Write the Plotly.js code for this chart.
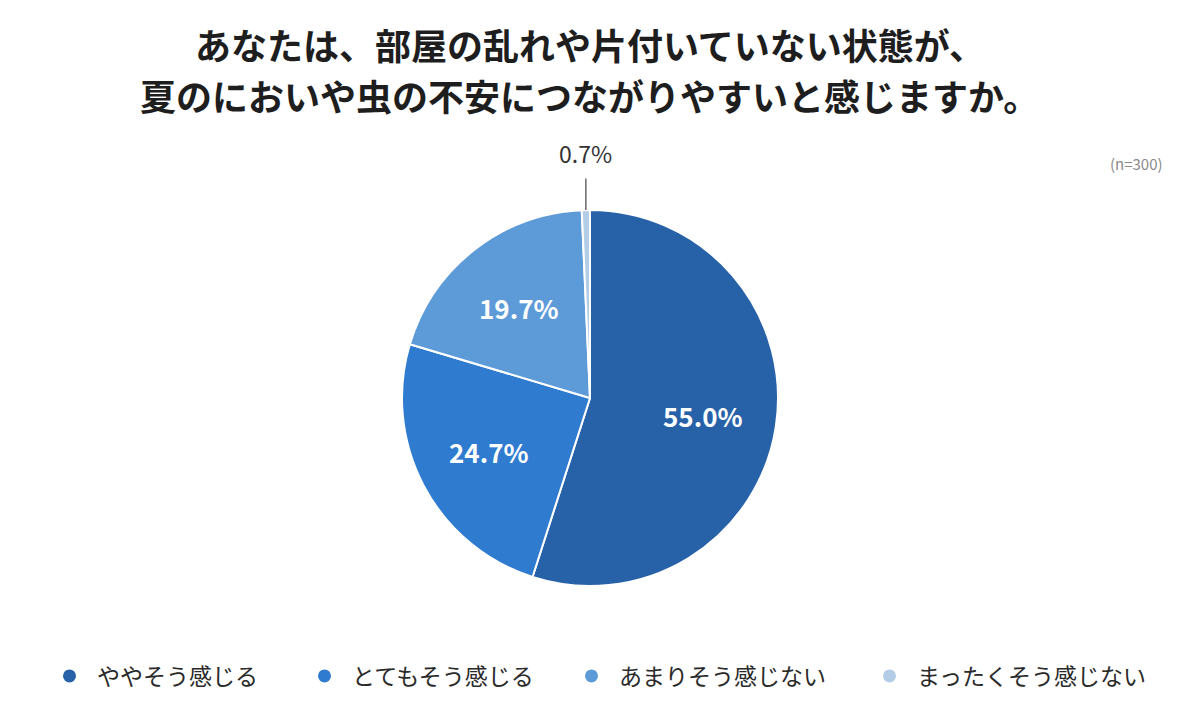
<!DOCTYPE html>
<html>
<head>
<meta charset="utf-8">
<script src="https://cdn.plot.ly/plotly-3.0.1.min.js"></script>
<style>html,body{margin:0;padding:0;background:#fff;}#chart{width:1200px;height:726px;}</style>
</head>
<body>
<div id="chart"></div>
<script>
const categories = ['ややそう感じる', 'とてもそう感じる', 'あまりそう感じない', 'まったくそう感じない'];
const percents = [55.0, 24.7, 19.7, 0.7];
const colors = ['#2761a8', '#2f7bcf', '#5d9bd8', '#b3cde6'];
const titleLines = ['あなたは、部屋の乱れや片付いていない状態が、', '夏のにおいや虫の不安につながりやすいと感じますか。'];
const noteText = '(n=300)';

const W = 1200, H = 726;
const M = {l: 80, r: 100, t: 210, b: 140};
const FONT = '"Noto Sans CJK JP", "Noto Sans", sans-serif';
const legendX = [62, 317, 584, 882]; // legend marker centres (px)

const isInside = percents.map(v => v >= 5);

const pie = {
  type: 'pie',
  labels: categories,
  values: percents,
  sort: false,
  direction: 'clockwise',
  rotation: 0,
  textinfo: 'none',
  marker: {colors: colors, line: {color: '#ffffff', width: 2}},
  showlegend: false,
  hoverinfo: 'label+value'
};

// legend entries with circle symbols
const legendTraces = categories.map((c, i) => ({
  type: 'scatter', mode: 'markers',
  x: [null], y: [null],
  name: c,
  marker: {color: colors[i], size: 13, symbol: 'circle'},
  showlegend: true,
  legend: i === 0 ? 'legend' : 'legend' + (i + 1),
  hoverinfo: 'skip'
}));

const plotW = W - M.l - M.r, plotH = H - M.t - M.b;
const R = Math.min(plotW, plotH) / 2;
const total = percents.reduce((a, b) => a + b, 0);
const annotations = [];
let cum = 0;
percents.forEach((v, i) => {
  const mid = (cum + v / 2) / total * 2 * Math.PI; // clockwise from top
  cum += v;
  const sx = Math.sin(mid), sy = Math.cos(mid);
  if (isInside[i]) {
    annotations.push({
      xref: 'paper', yref: 'paper',
      x: 0.5 + sx * R * 0.61 / plotW, y: 0.5 + sy * R * 0.61 / plotH,
      text: v.toFixed(1) + '%', showarrow: false,
      xanchor: 'center', yanchor: 'middle',
      font: {family: FONT, size: 26, color: '#ffffff', weight: 'bold'}
    });
  } else {
    annotations.push({
      xref: 'paper', yref: 'paper',
      x: 0.5 + sx * R / plotW, y: 0.5 + sy * R / plotH,
      text: v.toFixed(1) + '%',
      showarrow: true, arrowhead: 0, arrowwidth: 1.3, arrowcolor: '#555',
      ax: 0, ay: -57, standoff: 0, startstandoff: 7,
      font: {family: FONT, size: 23, color: '#333333'}
    });
  }
});
annotations.push({
  xref: 'paper', yref: 'paper', x: (1136 - M.l) / plotW, y: (H - M.b - 163) / plotH,
  text: noteText, showarrow: false, xanchor: 'center', yanchor: 'middle',
  font: {family: FONT, size: 15, color: '#8a8a8a'}
});
// second title line
annotations.push({
  xref: 'paper', yref: 'paper', x: (589 - M.l) / plotW, y: (H - M.b - 95) / plotH,
  text: titleLines[1], showarrow: false, xanchor: 'center', yanchor: 'middle',
  font: {family: FONT, size: 36, color: '#1e1e1e', weight: 'bold'}
});

const layout = {
  width: W, height: H,
  margin: M,
  paper_bgcolor: '#ffffff',
  plot_bgcolor: '#ffffff',
  xaxis: {visible: false, showgrid: false, zeroline: false},
  yaxis: {visible: false, showgrid: false, zeroline: false},
  title: {
    text: titleLines[0],
    font: {family: FONT, size: 36, color: '#1e1e1e', weight: 'bold'},
    x: 590 / W, xanchor: 'center', xref: 'container',
    y: 1 - 47 / H, yanchor: 'middle', yref: 'container'
  },
  annotations: annotations,
  showlegend: true
};
legendX.forEach((px, i) => {
  const key = i === 0 ? 'legend' : 'legend' + (i + 1);
  layout[key] = {
    orientation: 'h',
    x: (px - 20 - M.l) / plotW, xanchor: 'left',
    y: (H - M.b - 676) / plotH, yanchor: 'middle',
    font: {family: FONT, size: 23, color: '#2a2a2a'},
    itemwidth: 45,
    bgcolor: 'rgba(0,0,0,0)'
  };
});

Plotly.newPlot('chart', [pie].concat(legendTraces), layout, {displayModeBar: false, staticPlot: true});
</script>
</body>
</html>
